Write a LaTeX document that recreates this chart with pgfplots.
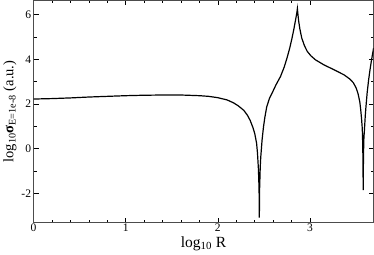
\documentclass[border=0pt]{standalone}
\usepackage{fontspec}
\setmainfont{Liberation Serif}
\usepackage{pgfplots}
\pgfplotsset{compat=1.18}
\begin{document}
\begin{tikzpicture}[x=1bp,y=1bp]
\begin{axis}[
  scale only axis,
  width=338bp, height=221bp,
  xmin=0, xmax=3.69, ymin=-3.31, ymax=6.63,
  xtick={0,1,2,3}, ytick={-2,0,2,4,6},
  minor x tick num=4, minor y tick num=1,
  tick align=inside,
  major tick length=5bp, minor tick length=3bp,
  tick style={black, line width=0.5pt},
  axis line style={line width=0.8pt, black!70},
  /pgf/number format/assume math mode=true,
  tick label style={font=\fontsize{11.5}{13}\selectfont},
  xticklabel style={yshift=2.5bp},
  yticklabel style={xshift=1bp},
  xlabel={log\textsubscript{10} R},
  ylabel={log\textsubscript{10}\textbf{σ}\textsubscript{E=1e-8} (a.u.)},
  xlabel style={font=\fontsize{15.5}{17}\selectfont, yshift=1.5bp},
  ylabel style={font=\fontsize{14.5}{16}\selectfont, yshift=-2bp},
]
\addplot[black, line width=1.2pt] coordinates {
(0,2.22) (0.2,2.24) (0.4,2.27) (0.6,2.31) (0.8,2.34) (1.0,2.37) (1.2,2.39) (1.4,2.40)
(1.6,2.40) (1.8,2.37) (1.9,2.34) (2.0,2.28) (2.1,2.18) (2.17,2.05) (2.22,1.92)
(2.28,1.72) (2.32,1.50) (2.35,1.27) (2.38,0.95) (2.40,0.68) (2.42,0.25) (2.43,-0.2)
(2.44,-0.9) (2.447,-1.8) (2.45,-3.08) (2.453,-1.8) (2.46,-0.8) (2.465,-0.4) (2.48,0.4)
(2.495,0.97) (2.51,1.4) (2.53,1.87) (2.56,2.25) (2.59,2.5) (2.63,2.85) (2.68,3.23)
(2.72,3.65) (2.75,4.05) (2.78,4.5) (2.805,4.95) (2.825,5.35) (2.845,5.8) (2.856,6.05) (2.863,6.26)
(2.869,6.0) (2.877,5.7) (2.89,5.35) (2.91,4.95) (2.94,4.6) (2.97,4.35) (3.01,4.15) (3.06,3.97)
(3.15,3.75) (3.26,3.53) (3.37,3.30) (3.43,3.12) (3.47,2.95) (3.50,2.72) (3.52,2.48)
(3.54,2.1) (3.55,1.75) (3.56,1.3) (3.567,0.9) (3.572,0.2) (3.575,-0.7) (3.577,-1.85)
(3.580,-0.3) (3.585,0.5) (3.59,0.8) (3.6,1.5) (3.607,1.87) (3.62,2.5) (3.636,3.08)
(3.65,3.5) (3.668,3.98) (3.69,4.5)
};
\end{axis}
\end{tikzpicture}
\end{document}
